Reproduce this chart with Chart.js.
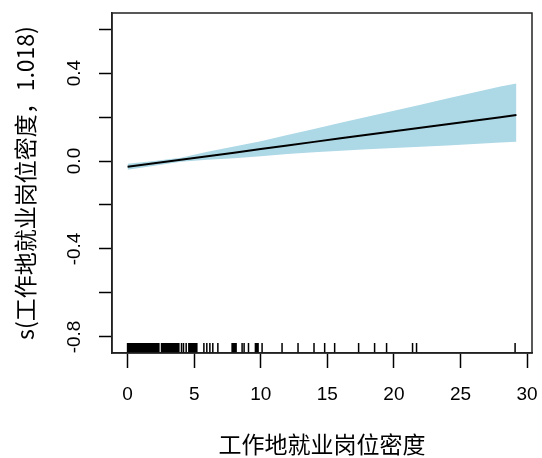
<!DOCTYPE html>
<html>
<head>
<meta charset="utf-8">
<script src="https://cdn.jsdelivr.net/npm/chart.js@4/dist/chart.umd.min.js"></script>
<style>
  html, body { margin: 0; padding: 0; background: #fff; }
  #wrap { width: 542px; height: 458px; }
</style>
</head>
<body>
<div id="wrap"><canvas id="c" width="542" height="458"></canvas></div>
<script>
// ---- data ----
const xGrid = [0, 2, 4, 6, 8, 10, 12, 14, 16, 18, 20, 22, 24, 26, 28, 29.2];
const fitValues = [-0.026, -0.010, 0.006, 0.022, 0.038, 0.055, 0.071, 0.087, 0.103, 0.119, 0.135, 0.151, 0.167, 0.183, 0.199, 0.209];
const upperValues = [-0.012, 0.000, 0.015, 0.042, 0.066, 0.090, 0.118, 0.146, 0.174, 0.201, 0.229, 0.256, 0.284, 0.311, 0.339, 0.352];
const lowerValues = [-0.040, -0.021, -0.003, 0.006, 0.013, 0.022, 0.032, 0.040, 0.047, 0.053, 0.059, 0.065, 0.071, 0.077, 0.084, 0.088];
const rugValues = [
  0.0, 0.1, 0.2, 0.3, 0.4, 0.5, 0.6, 0.7, 0.8, 0.9, 1.0, 1.1, 1.2, 1.3, 1.4, 1.5, 1.6, 1.7, 1.8, 1.9, 2.0, 2.1, 2.2, 2.3, 2.35,
  2.55, 2.65, 2.75, 2.85, 2.95, 3.05, 3.15, 3.25, 3.35, 3.45, 3.55, 3.65, 3.75, 3.85,
  4.05, 4.2, 4.4,
  4.6, 4.7, 4.8, 4.9, 5.0, 5.1, 5.2,
  5.73, 5.95, 6.18, 6.4, 6.78,
  7.85, 7.95, 8.05, 8.15,
  8.6, 8.75, 9.08,
  9.6, 9.7, 9.8, 10.1,
  11.6, 12.8, 14.0, 14.8, 15.55, 17.35, 18.55, 19.45, 21.4, 21.7, 29.1
];
const xTicks = [0, 5, 10, 15, 20, 25, 30];
const yTicks = [-0.8, -0.6, -0.4, -0.2, 0.0, 0.2, 0.4, 0.6];
const yTickLabels = ["-0.8", "", "-0.4", "", "0.0", "", "0.4", ""];
const xTitle = "工作地就业岗位密度";
const yTitle = "s(工作地就业岗位密度，1.018)";

const pts = (ys) => xGrid.map((x, i) => ({ x: x, y: ys[i] }));

const LATIN = '"Liberation Sans", Arial, sans-serif';
const CJK = '"Noto Sans CJK SC", "Liberation Sans", sans-serif';

const boxAndRug = {
  id: 'boxAndRug',
  afterDraw(chart) {
    const ctx = chart.ctx, a = chart.chartArea;
    const xs = chart.scales.x, ys = chart.scales.y;
    ctx.save();
    // rug
    ctx.strokeStyle = '#000';
    ctx.lineWidth = 1.5;
    ctx.beginPath();
    rugValues.forEach(v => {
      const px = xs.getPixelForValue(v);
      ctx.moveTo(px, a.bottom);
      ctx.lineTo(px, a.bottom - 10);
    });
    ctx.stroke();
    // box
    ctx.strokeStyle = '#222';
    ctx.lineWidth = 1.5;
    ctx.strokeRect(a.left, a.top, a.right - a.left, a.bottom - a.top);
    // rotated y tick labels
    ctx.fillStyle = '#000';
    ctx.font = '19px ' + LATIN;
    ctx.textAlign = 'center';
    ctx.textBaseline = 'middle';
    yTicks.forEach((v, i) => {
      if (!yTickLabels[i]) return;
      const py = ys.getPixelForValue(v);
      ctx.save();
      ctx.translate(75, py);
      ctx.rotate(-Math.PI / 2);
      ctx.fillText(yTickLabels[i], 0, 0);
      ctx.restore();
    });
    ctx.restore();
  }
};

new Chart(document.getElementById('c'), {
  type: 'line',
  data: {
    datasets: [
      { label: 'fit', data: pts(fitValues), borderColor: '#000', borderWidth: 2, pointRadius: 0, fill: false, tension: 0 },
      { label: 'upper', data: pts(upperValues), borderWidth: 0, borderColor: 'rgba(0,0,0,0)', backgroundColor: '#ADD8E6', pointRadius: 0, fill: '+1', tension: 0 },
      { label: 'lower', data: pts(lowerValues), borderWidth: 0, borderColor: 'rgba(0,0,0,0)', backgroundColor: '#ADD8E6', pointRadius: 0, fill: false, tension: 0 }
    ]
  },
  options: {
    responsive: false,
    animation: false,
    devicePixelRatio: 1,
    layout: { padding: { left: 0, right: 10, top: 13, bottom: 0 } },
    plugins: { legend: { display: false }, tooltip: { enabled: false } },
    scales: {
      x: {
        type: 'linear',
        min: -1.17, max: 30.37,
        afterBuildTicks: (s) => { s.ticks = xTicks.map(v => ({ value: v })); },
        afterFit: (s) => { s.height = 105; s.paddingLeft = 0; s.paddingRight = 0; },
        grid: { display: true, drawOnChartArea: false, drawTicks: true, tickLength: 15, tickWidth: 1.5, tickColor: '#000' },
        border: { display: true, color: '#222', width: 1.5 },
        ticks: { color: '#000', font: { family: LATIN, size: 19 }, padding: 15, maxRotation: 0, autoSkip: false,
                 callback: (v) => String(v) },
        title: { display: true, text: xTitle, color: '#000', font: { family: CJK, size: 23 }, padding: { top: 0, bottom: 0 } }
      },
      y: {
        type: 'linear',
        min: -0.873, max: 0.673,
        afterBuildTicks: (s) => { s.ticks = yTicks.map(v => ({ value: v })); },
        afterFit: (s) => { s.width = 112; },
        grid: { display: true, drawOnChartArea: false, drawTicks: true, tickLength: 13, tickWidth: 1.5, tickColor: '#000' },
        border: { display: true, color: '#222', width: 1.5 },
        ticks: { display: false },
        title: { display: true, text: yTitle, color: '#000', font: { family: CJK, size: 23 }, padding: { top: 11, bottom: 0 } }
      }
    }
  },
  plugins: [boxAndRug]
});
</script>
</body>
</html>
